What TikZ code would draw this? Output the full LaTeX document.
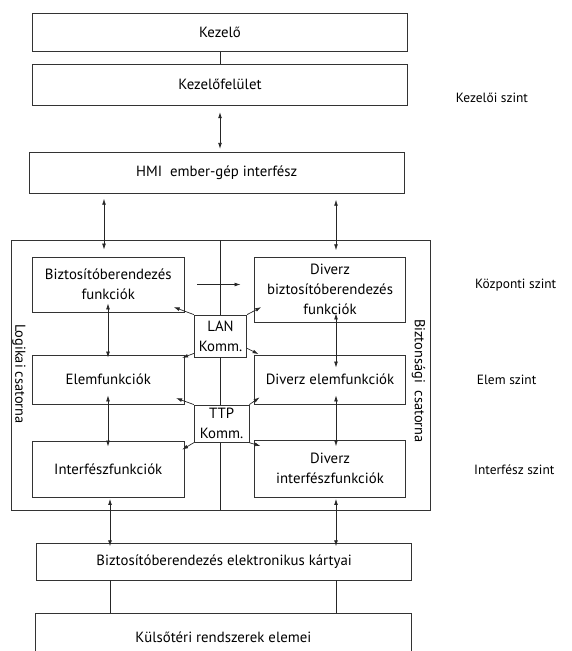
\documentclass[tikz,border=0pt]{standalone}
\usepackage{fontspec}
\setmainfont{PT Sans}
\usetikzlibrary{arrows.meta}
\begin{document}
\begin{tikzpicture}[x=1pt,y=-1pt,
  txt/.style={font=\fontsize{14.8}{20}\selectfont},
  box/.style={txt, draw=black!80, line width=0.8pt, inner sep=0pt, align=center},
  komm/.style={box, fill=white},
  lvl/.style={font=\fontsize{13.4}{16}\selectfont, anchor=west, inner sep=0pt},
  side/.style={font=\fontsize{14.4}{16}\selectfont, rotate=-90, inner sep=0pt},
  link/.style={draw=black!85, line width=0.7pt},
  tipshape/.tip={Latex[length=6pt,width=3.8pt]},
  biarrow/.style={link, tipshape-tipshape},
  onearrow/.style={link, -tipshape}]
\useasboundingbox (0,0) rectangle (571,651);
\clip (0,0) rectangle (571,651);

% columns used by the vertical connectors
\coordinate (cH) at (104,0);
\coordinate (cL) at (108,0);
\coordinate (cB) at (110,0);
\coordinate (cR) at (336,0);

% operator level
\node[box, minimum width=375.4pt, minimum height=38.4pt] (kezelo) at (220,32.5) {Kezelő};
\node[box, minimum width=375.4pt, minimum height=40.7pt] (felulet) at (220,84.7) {Kezelőfelület};
\node[box, minimum width=375.3pt, minimum height=41pt] (hmi) at (216.7,172.8) {HMI\ \ ember-gép interfész};

% the two channels
\node[draw=black!80, line width=0.8pt, minimum width=419pt, minimum height=269.3pt, inner sep=0pt] (keret) at (221.2,375.35) {};
\node[box, minimum width=151.5pt, minimum height=55pt] (biz) at (108.25,284.5) {Biztosítóberendezés\\funkciók};
\node[box, minimum width=151pt, minimum height=65pt] (dbiz) at (330,289.5) {Diverz\\biztosítóberendezés\\funkciók};
\node[box, minimum width=151.5pt, minimum height=49pt] (elem) at (108.25,379.5) {Elemfunkciók};
\node[box, minimum width=151pt, minimum height=49pt] (delem) at (330,379.5) {Diverz elemfunkciók};
\node[box, minimum width=151.5pt, minimum height=56pt] (interf) at (108.25,469) {Interfészfunkciók};
\node[box, minimum width=151pt, minimum height=57pt] (dinterf) at (330,468.5) {Diverz\\interfészfunkciók};
\node[komm, minimum width=52.4pt, minimum height=42pt] (lan) at (220.5,336) {LAN\\Komm.};
\node[komm, minimum width=54.7pt, minimum height=37.3pt] (ttp) at (221.6,423.6) {TTP\\Komm.};

\node[side] (logikai) at (19,374) {Logikai csatorna};
\node[side] (biztonsagi) at (418.5,381) {Biztonsági\ \ csatorna};

% field level
\node[box, minimum width=375pt, minimum height=36.7pt] (elektr) at (224.2,561.7) {Biztosítóberendezés elektronikus kártyai};
\node[box, minimum width=375.3pt, minimum height=47.4pt] (kulso) at (223.35,637) {Külsőtéri rendszerek elemei};

% level captions
\node[lvl] (szint1) at (455.7,98.3) {Kezelői szint};
\node[lvl] (szint2) at (475,285) {Központi szint};
\node[lvl] (szint3) at (476.7,380) {Elem szint};
\node[lvl] (szint4) at (474,470) {Interfész szint};

% divider between the channels
\draw[link] (lan.north |- keret.north) -- (lan.north);
\draw[link] (lan.south) -- (lan.south |- ttp.north);
\draw[link] (lan.south |- ttp.south) -- (lan.south |- keret.south);

% vertical connectors
\draw[link] (kezelo.south) -- (felulet.north);
\draw[biarrow, shorten <=6.7pt, shorten >=3pt] (felulet.south) -- (felulet.south |- hmi.north);
\draw[biarrow, shorten <=5pt, shorten >=7pt] (hmi.south -| cH) -- (biz.north -| cH);
\draw[biarrow, shorten <=6pt, shorten >=6.3pt] (hmi.south -| cR) -- (dbiz.north -| cR);
\draw[biarrow, shorten <=-9pt, shorten >=-3pt] (biz.south -| cL) -- (elem.north -| cL);
\draw[biarrow, shorten <=-9pt, shorten >=-13pt] (dbiz.south -| cR) -- (delem.north -| cR);
\draw[biarrow, shorten <=-9pt, shorten >=-6pt] (elem.south -| cL) -- (interf.north -| cL);
\draw[biarrow, shorten <=-9pt, shorten >=-6.7pt] (delem.south -| cR) -- (dinterf.north -| cR);
\draw[biarrow, shorten <=1.5pt, shorten >=-3.4pt] (interf.south -| cB) -- (elektr.north -| cB);
\draw[biarrow, shorten <=1.5pt, shorten >=-3.4pt] (dinterf.south -| cR) -- (elektr.north -| cR);
\draw[link] (elektr.south -| cB) -- (kulso.north -| cB);
\draw[link] (elektr.south -| cR) -- (kulso.north -| cR);

% horizontal link between the two central boxes
\draw[onearrow, shorten <=12.7pt, shorten >=13.5pt] (biz.east) -- (biz.east -| dbiz.west);

% communication links
\draw[onearrow] (lan.north west) -- ([shift={(-10.7,-5.3)}]biz.south east);
\draw[onearrow] (lan.north east) -- ([shift={(7.2,-15.3)}]dbiz.south west);
\draw[onearrow] ([yshift=4pt]lan.south west) -- ([shift={(-2.3,3.3)}]elem.north east);
\draw[onearrow] ([yshift=9pt]lan.south east) -- ([shift={(4.5,-0.5)}]delem.north west);
\draw[onearrow] (ttp.north west) -- ([shift={(-8.3,-6.3)}]elem.south east);
\draw[onearrow] (ttp.north east) -- ([shift={(5.5,-7)}]delem.south west);
\draw[onearrow] (ttp.south west) -- ([shift={(-2.3,9)}]interf.north east);
\draw[onearrow] (ttp.south east) -- ([shift={(6.5,6.5)}]dinterf.north west);
\end{tikzpicture}
\end{document}
